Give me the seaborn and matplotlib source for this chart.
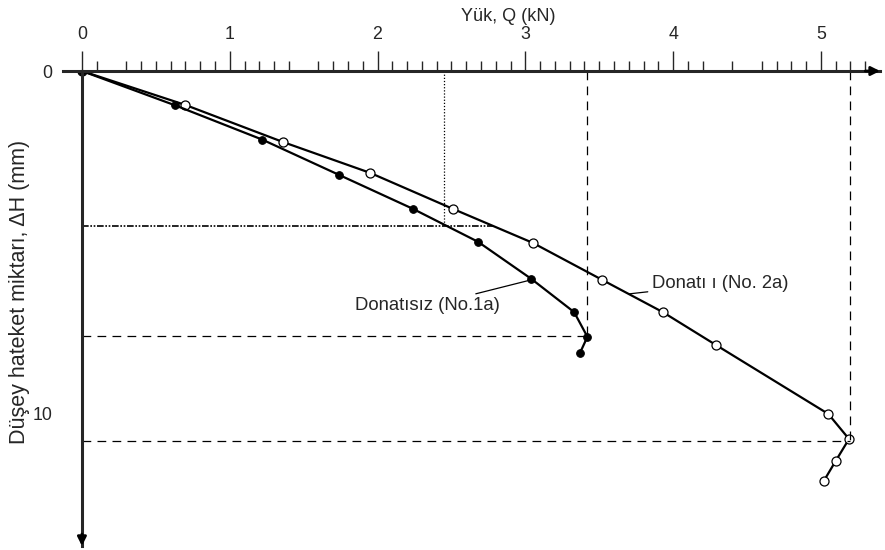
import seaborn as sns
import matplotlib.pyplot as plt

# load Q (kN) against settlement dH (mm)
q_unreinforced = [0, 0.63, 1.22, 1.74, 2.24, 2.68, 3.04, 3.33, 3.42, 3.37]
h_unreinforced = [0, 1.0, 2.0, 3.03, 4.02, 4.98, 6.06, 7.03, 7.75, 8.22]

q_reinforced = [0, 0.70, 1.36, 1.95, 2.51, 3.05, 3.52, 3.93, 4.29, 5.05, 5.19, 5.10, 5.02]
h_reinforced = [0, 0.99, 2.07, 2.97, 4.02, 5.01, 6.09, 7.03, 7.99, 10.0, 10.73, 11.37, 11.95]

# reference lines: (Q, dH) where the guide lines meet
guide_q = [2.45, 3.42, 5.20]
guide_h = [4.52, 7.72, 10.80]
guide_h_end_q = 2.78   # dash-dot line stops a bit past the dotted one

x_major = [0, 1, 2, 3, 4, 5]
x_minor = [0.1, 0.3, 0.4, 0.5, 0.6, 0.7, 0.8, 0.9, 1.1, 1.2, 1.3, 1.4, 1.6, 1.7,
           1.8, 1.9, 2.1, 2.2, 2.3, 2.4, 2.5, 2.6, 2.7, 2.8, 2.9, 3.1, 3.2, 3.3,
           3.4, 3.5, 3.6, 3.7, 3.8, 3.9, 4.1, 4.2, 4.4, 4.6, 4.7, 4.8, 4.9, 5.1,
           5.2, 5.3]
y_major = [0, 10]
y_minor = [1, 2, 4, 6, 7, 8, 9, 11, 12, 13]

sns.set_style("white")
plt.rcParams['font.family'] = ['Liberation Sans', 'DejaVu Sans']

fig = plt.figure(figsize=(8.85, 5.5), dpi=100)
ax = fig.add_axes([0.0712, 0.0073, 0.9232, 0.8636])

sns.lineplot(x=q_reinforced, y=h_reinforced, sort=False, estimator=None,
             color='black', lw=1.6, marker='o', markersize=6.5,
             markerfacecolor='white', markeredgecolor='black',
             markeredgewidth=0.9, ax=ax)
sns.lineplot(x=q_unreinforced, y=h_unreinforced, sort=False, estimator=None,
             color='black', lw=1.6, marker='o', markersize=5.5,
             markerfacecolor='black', markeredgecolor='black', ax=ax)

# guide lines
ax.plot([guide_q[0], guide_q[0]], [0, guide_h[0]], color='black', lw=0.9,
        ls=(0, (1, 1.5)))
ax.plot([0, guide_h_end_q], [guide_h[0], guide_h[0]], color='black', lw=1.2,
        ls=(0, (4, 1, 1, 1, 1, 1)))
for q, h in zip(guide_q[1:], guide_h[1:]):
    ax.plot([q, q], [0, h], color='black', lw=0.9, ls=(0, (7, 5)))
    ax.plot([0, q], [h, h], color='black', lw=0.9, ls=(0, (7, 5)))

ax.annotate('Donatısız (No.1a)', xy=(3.03, 6.1), xytext=(2.83, 6.85),
            ha='right', va='center', fontsize=13.3,
            arrowprops=dict(arrowstyle='-', lw=0.9, color='black',
                            shrinkA=1, shrinkB=0))
ax.annotate('Donatı ı (No. 2a)', xy=(3.70, 6.5), xytext=(3.86, 6.2),
            ha='left', va='center', fontsize=13.3,
            arrowprops=dict(arrowstyle='-', lw=0.9, color='black',
                            shrinkA=1, shrinkB=0))

ax.set_xlim(-0.128, 5.4)
ax.set_ylim(13.85, 0)

for side in ['right', 'bottom']:
    ax.spines[side].set_visible(False)
ax.spines['left'].set_position(('data', 0))
ax.spines['top'].set_linewidth(2.2)
ax.spines['left'].set_linewidth(2.2)

# arrow heads at the axis ends
ax.annotate('', xy=(5.4, 0), xytext=(5.3, 0),
            arrowprops=dict(arrowstyle='-|>', color='black', lw=2,
                            mutation_scale=13, shrinkA=0, shrinkB=0),
            annotation_clip=False)
ax.annotate('', xy=(0, 13.85), xytext=(0, 13.5),
            arrowprops=dict(arrowstyle='-|>', color='black', lw=2,
                            mutation_scale=13, shrinkA=0, shrinkB=0),
            annotation_clip=False)

ax.xaxis.tick_top()
ax.xaxis.set_label_position('top')
ax.set_xticks(x_major)
ax.set_xticks(x_minor, minor=True)
ax.set_yticks(y_major)
ax.set_yticks(y_minor, minor=True)
ax.set_xticklabels([str(v) for v in x_major])
ax.set_yticklabels([str(v) for v in y_major])
ax.tick_params(axis='x', which='major', direction='out', length=14.5, width=1,
               pad=5.5, labelsize=12.8)
ax.tick_params(axis='x', which='minor', direction='out', length=7.2, width=1)
ax.tick_params(axis='y', which='major', direction='out', length=13, width=1,
               pad=8.5, labelsize=12.8)
ax.tick_params(axis='y', which='minor', direction='out', length=6, width=1)

ax.set_xlabel('Yük, Q (kN)', fontsize=13)
ax.xaxis.set_label_coords(0.545, 1.106)
ax.set_ylabel('Düşey hateket miktarı, ΔH (mm)', fontsize=15.5)
ax.yaxis.set_label_coords(-0.04, 0.535)

fig.savefig('out.png', dpi=100)
